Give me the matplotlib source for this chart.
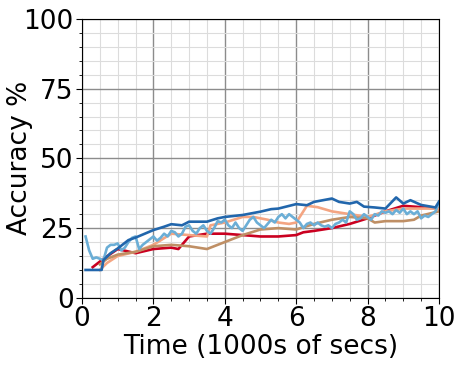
import numpy as np
import matplotlib
matplotlib.use("Agg")
from matplotlib import pyplot as plt
from matplotlib.ticker import MultipleLocator

# series (time in 1000s of secs, accuracy %)
red_x = [0.3, 0.6, 1.0, 1.5, 2.0, 2.5, 2.7, 3.0, 3.5, 4.0, 4.5, 5.0, 5.5, 6.0, 6.2, 6.5, 7.0, 7.5, 8.0, 8.5, 9.0, 9.5, 10.0]
red_y = [11, 14, 17.5, 16, 17.5, 18, 17.5, 22, 23, 23, 22.5, 22, 22, 22.5, 23.5, 24, 25, 26.5, 28.5, 31, 33, 32.5, 32]

orange_x = [0.5, 0.7, 1.0, 1.5, 2.0, 2.5, 3.0, 3.5, 3.6, 4.0, 4.5, 4.8, 5.2, 5.5, 5.8, 6.0, 6.3, 6.6, 7.0, 7.5, 8.0, 8.5, 9.0, 9.5, 10.0]
orange_y = [10, 12.5, 15, 16.5, 19, 23, 22.5, 22, 26, 27, 29, 29, 28, 27, 26.5, 27, 33, 32.5, 31, 30, 29, 31, 32, 32, 32]

tan_x = [0.5, 0.7, 1.0, 1.5, 2.0, 2.5, 3.0, 3.5, 4.0, 4.5, 5.0, 5.5, 6.0, 6.5, 7.0, 7.5, 8.0, 8.2, 8.5, 9.0, 9.3, 9.5, 10.0]
tan_y = [12, 14, 15.5, 16.5, 18.5, 19, 18.5, 17.5, 20, 22.5, 24.5, 25, 24.5, 26.5, 28, 29, 28.5, 27, 27.5, 27.5, 28, 29.5, 31]

light_x = np.round(np.arange(0.1, 10.05, 0.1), 2)
light_y = [22, 17, 14, 14.5, 14, 13.5, 18, 19, 19, 19.5,
           17, 18, 20, 21.5, 22, 17.5, 19, 20, 21, 22,
           20.5, 21.5, 23, 22, 24, 23.5, 22, 23, 25.5, 26,
           24, 23, 25, 26, 24, 23, 25, 27.5, 27, 28,
           26, 25, 27, 25, 24, 26, 28, 29, 27, 26,
           25, 26.5, 28, 27, 29, 30, 28.5, 30, 29, 28,
           27, 25, 26.5, 27, 26, 27, 26, 25.5, 26, 25,
           26.5, 27, 28, 27, 31, 30, 28, 28.5, 30, 29,
           28, 30, 29.5, 31, 30.5, 31, 30, 31.5, 30.5, 32,
           30, 31, 30, 31, 28.5, 29.5, 29, 30, 31, 34]

dark_x = [0.1, 0.55, 0.6, 0.8, 1.0, 1.3, 1.5, 2.0, 2.3, 2.5, 2.8, 3.0, 3.5, 3.8, 4.0, 4.5, 5.0, 5.3, 5.5, 6.0, 6.3, 6.5, 7.0, 7.2, 7.5, 7.7, 7.9, 8.2, 8.5, 8.8, 9.0, 9.2, 9.5, 9.9, 10.0]
dark_y = [10, 10, 13.5, 16, 17.7, 20.7, 21.6, 24.3, 25.5, 26.4, 26, 27.3, 27.3, 28.5, 29, 29.7, 30.9, 31.8, 32, 33.6, 33.2, 34.4, 35.6, 34.4, 33.8, 34.4, 32.7, 32.4, 32, 36, 33.8, 35, 33.3, 32.4, 34.5]

fig = plt.figure(figsize=(4.66, 3.7), dpi=100)
ax = fig.add_axes([0.176, 0.195, 0.766, 0.754])

ax.plot(red_x, red_y, color='#ca0020', lw=1.9)
ax.plot(orange_x, orange_y, color='#f4a582', lw=1.9)
ax.plot(tan_x, tan_y, color='#bf8f65', lw=1.9)
ax.plot(light_x, light_y, color='#6baed6', lw=1.9)
ax.plot(dark_x, dark_y, color='#2166ac', lw=1.9)

ax.set_xlim(0, 10)
ax.set_ylim(0, 100)
ax.xaxis.set_major_locator(MultipleLocator(2))
ax.xaxis.set_minor_locator(MultipleLocator(0.5))
ax.yaxis.set_major_locator(MultipleLocator(25))
ax.yaxis.set_minor_locator(MultipleLocator(5))
ax.grid(which='major', color='#8c8c8c', lw=1.0)
ax.grid(which='minor', color='#dcdcdc', lw=0.8)
ax.set_axisbelow(True)
ax.tick_params(labelsize=19, length=4, pad=2)
ax.tick_params(which='minor', length=2)
ax.set_xlabel('Time (1000s of secs)', fontsize=19)
ax.set_ylabel('Accuracy %', fontsize=19)
ax.xaxis.set_label_coords(0.5, -0.13)
ax.yaxis.set_label_coords(-0.137, 0.5)

fig.savefig('out.png', dpi=100)
